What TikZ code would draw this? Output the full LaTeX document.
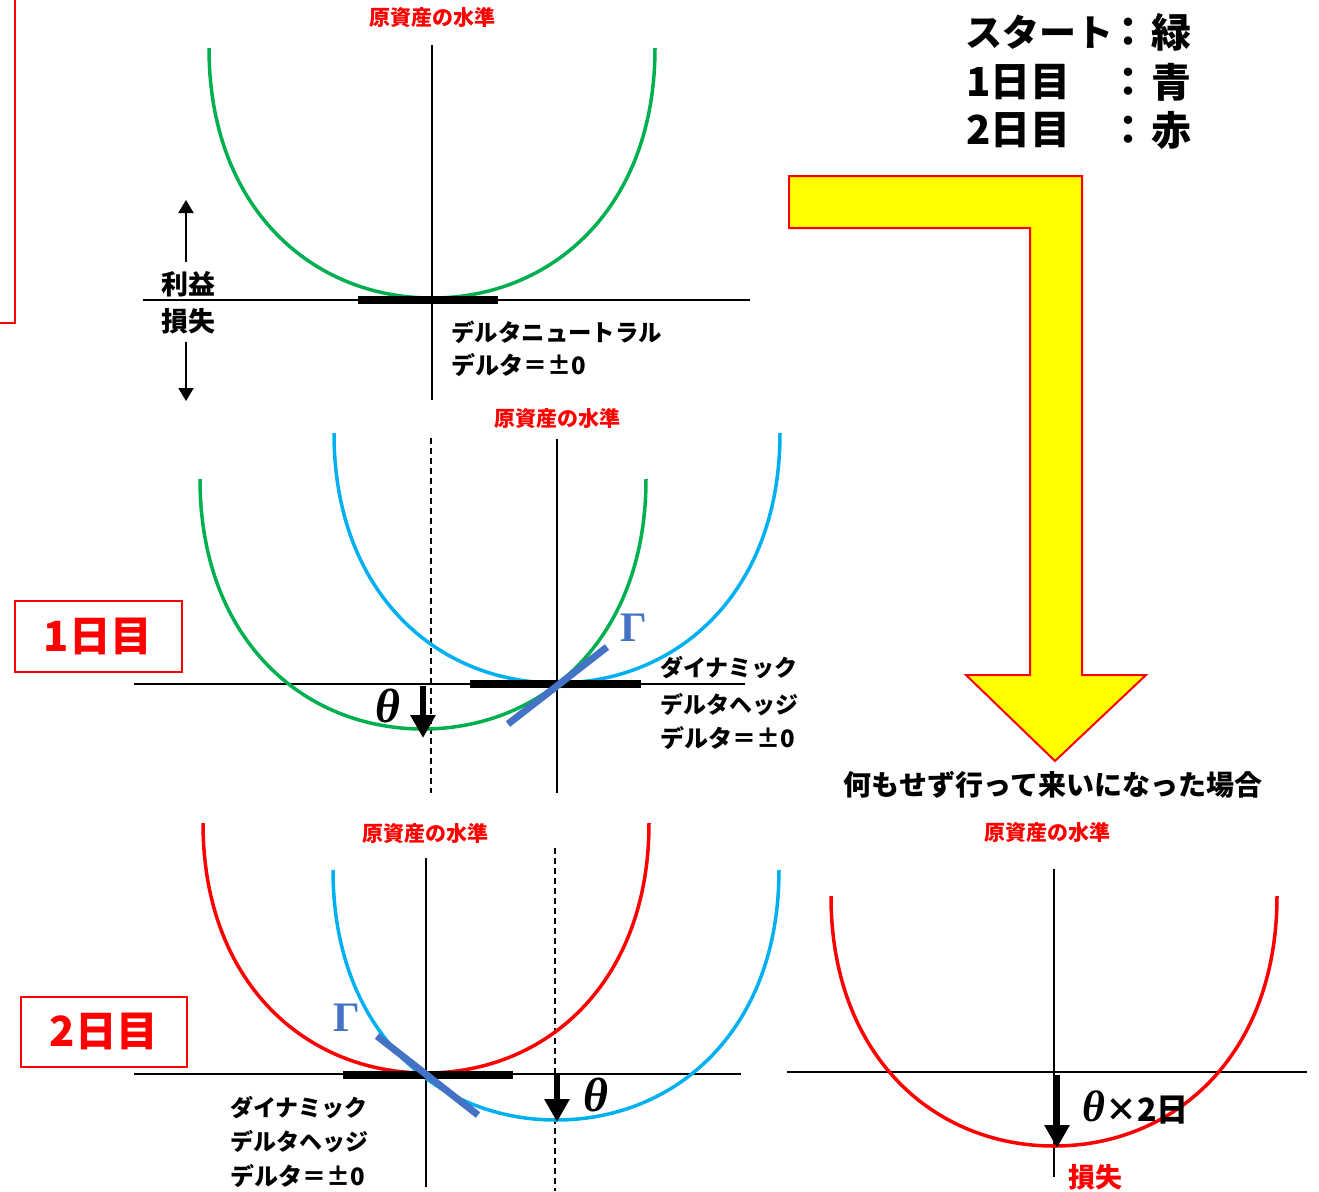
\documentclass[tikz,border=0pt]{standalone}
\usepackage{fontspec}
\usetikzlibrary{arrows.meta}
\newfontfamily\jp{Noto Sans CJK JP}
\newfontfamily\serifg{Liberation Serif}
\definecolor{cgreen}{HTML}{00B050}
\definecolor{cblue}{HTML}{00B0F0}
\definecolor{cred}{HTML}{FF0000}
\definecolor{gam}{HTML}{4472C4}
\definecolor{cyel}{HTML}{FFFF00}
\begin{document}
\begin{tikzpicture}[x=0.5pt,y=-0.5pt,
  axis/.style={black, line width=0.6pt},
  dashaxis/.style={black, line width=0.6pt, dash pattern=on 3pt off 2pt},
  ucurve/.pic={\draw[pic actions] (-223,-250) .. controls (-223,-90) and (-120,0) .. (0,0) .. controls (120,0) and (223,-90) .. (223,-250);},
  curve/.style={line width=1.75pt},
  dbar/.style={black, line width=4pt},
  gline/.style={gam, line width=3.5pt},
  bigarrow/.style={black, line width=3pt, -{Triangle[length=11.5pt,width=12pt]}},
  smallarrow/.style={black, line width=1pt, -{Triangle[length=6.5pt,width=7.5pt]}},
  jpt/.style={font=\jp\bfseries\fontsize{#1}{#1}\selectfont, inner sep=0pt},
  lvl/.style={jpt=10.5pt, text=cred},
  theta/.style={font=\serifg\bfseries\itshape\fontsize{#1}{#1}\selectfont, inner sep=0pt},
  gamma/.style={font=\serifg\bfseries\fontsize{21pt}{21pt}\selectfont, inner sep=0pt, text=gam},
  daybox/.style={draw=cred, line width=1pt}
]
\useasboundingbox (0,0) rectangle (1319,1191);

% red bracket at top-left
\draw[cred, line width=1pt] (15,0) -- (15,323) -- (0,323);

% ---------- Panel 1 ----------
\node[lvl] (t1) at (432,17) {原資産の水準};
\draw[axis] (432,45) -- (432,400);
\draw[axis] (143,300) -- (750,300);
\pic[draw=cgreen, curve] at (432,298) {ucurve};
\draw[dbar] (358,300) -- (498,300);
\node[jpt=13.5pt, anchor=center] (rieki) at (188,284) {利益};
\node[jpt=13.5pt, anchor=center] (sonshitsu) at (188,321) {損失};
\coordinate (up0) at (186,262); \coordinate (up1) at (186,200);
\coordinate (dn0) at (186,342); \coordinate (dn1) at (186,401);
\draw[smallarrow] (up0) -- (up1);
\draw[smallarrow] (dn0) -- (dn1);
\node[jpt=11.7pt, anchor=west] (dn1a) at (451,332) {デルタニュートラル};
\node[jpt=12pt, anchor=west] (dn1b) at (451,365) {デルタ＝±0};

% ---------- Panel 2 ----------
\node[lvl] (t2) at (557,418) {原資産の水準};
\draw[axis] (557,439) -- (557,793);
\draw[axis] (134,684) -- (745,684);
\draw[dashaxis] (431,438) -- (431,793);
\pic[draw=cgreen, curve] at (423,729) {ucurve};
\pic[draw=cblue, curve] at (557,683) {ucurve};
\draw[dbar] (470,684) -- (641,684);
\coordinate (g2a) at (508,724); \coordinate (g2b) at (607,647);
\draw[gline] (g2a) -- (g2b);
\node[gamma] (G2) at (634,628) {Γ};
\coordinate (a2s) at (423,686); \coordinate (a2e) at (423,738);
\draw[bigarrow] (a2s) -- (a2e);
\node[theta=24pt] (th2) at (388,706) {θ};
\node[jpt=11.5pt, anchor=west] (p2a) at (660,668) {ダイナミック};
\node[jpt=11.5pt, anchor=west] (p2b) at (660,705) {デルタヘッジ};
\node[jpt=12pt, anchor=west] (p2c) at (660,738) {デルタ＝±0};
\draw[daybox] (15,601) rectangle (182,672);
\node[jpt=20.8pt, text=cred] (d1) at (98,636) {1日目};

% ---------- Panel 3 ----------
\node[lvl] (t3) at (425,833) {原資産の水準};
\draw[axis] (426,858) -- (426,1187);
\draw[axis] (134,1074) -- (741,1074);
\draw[dashaxis] (555,848) -- (555,1191);
\pic[draw=cred, curve] at (426,1073) {ucurve};
\pic[draw=cblue, curve] at (556,1120) {ucurve};
\draw[dbar] (343,1075) -- (513,1075);
\coordinate (g3a) at (377,1036); \coordinate (g3b) at (478,1115);
\draw[gline] (g3a) -- (g3b);
\node[gamma] (G3) at (347,1018) {Γ};
\coordinate (a3s) at (557,1073); \coordinate (a3e) at (557,1122);
\draw[bigarrow] (a3s) -- (a3e);
\node[theta=24pt] (th3) at (596,1095) {θ};
\node[jpt=11.5pt, anchor=west] (p3a) at (230,1108) {ダイナミック};
\node[jpt=11.5pt, anchor=west] (p3b) at (230,1142) {デルタヘッジ};
\node[jpt=12pt, anchor=west] (p3c) at (230,1176) {デルタ＝±0};
\draw[daybox] (21,997) rectangle (187,1067);
\node[jpt=20.8pt, text=cred] (d2) at (104,1031) {2日目};

% ---------- Legend ----------
\node[jpt=18.5pt, anchor=west] (lg1) at (965,32) {スタート};
\node[jpt=20pt] (lg1c) at (1128,32) {：};
\node[jpt=20pt, anchor=east] (lg1k) at (1192,32) {緑};
\node[jpt=20pt, anchor=west] (lg2) at (966,82) {1日目};
\node[jpt=20pt] (lg2c) at (1128,82) {：};
\node[jpt=20pt, anchor=east] (lg2k) at (1192,82) {青};
\node[jpt=20pt, anchor=west] (lg3) at (966,130) {2日目};
\node[jpt=20pt] (lg3c) at (1128,130) {：};
\node[jpt=20pt, anchor=east] (lg3k) at (1192,130) {赤};

% ---------- Yellow bent arrow ----------
\draw[draw=cred, fill=cyel, line width=1pt]
  (789,176) -- (1082,176) -- (1082,675) -- (1146,675) -- (1055,761)
  -- (966,675) -- (1030,675) -- (1030,228) -- (789,228) -- cycle;
\node[jpt=14pt] (nothing) at (1053,785) {何もせず行って来いになった場合};

% ---------- Right panel ----------
\node[lvl] (t4) at (1047,832) {原資産の水準};
\draw[axis] (1054,869) -- (1054,1177);
\draw[axis] (787,1072) -- (1307,1072);
\pic[draw=cred, curve] at (1054,1146) {ucurve};
\coordinate (a4s) at (1057,1075); \coordinate (a4e) at (1057,1148);
\draw[bigarrow] (a4s) -- (a4e);
\node[anchor=west, inner sep=0pt] (th4) at (1082,1107) {{\serifg\bfseries\itshape\fontsize{22pt}{22pt}\selectfont θ}{\jp\bfseries\fontsize{16pt}{16pt}\selectfont ×2日}};
\node[jpt=13.5pt, text=cred] (loss) at (1095,1177) {損失};
\end{tikzpicture}
\end{document}
